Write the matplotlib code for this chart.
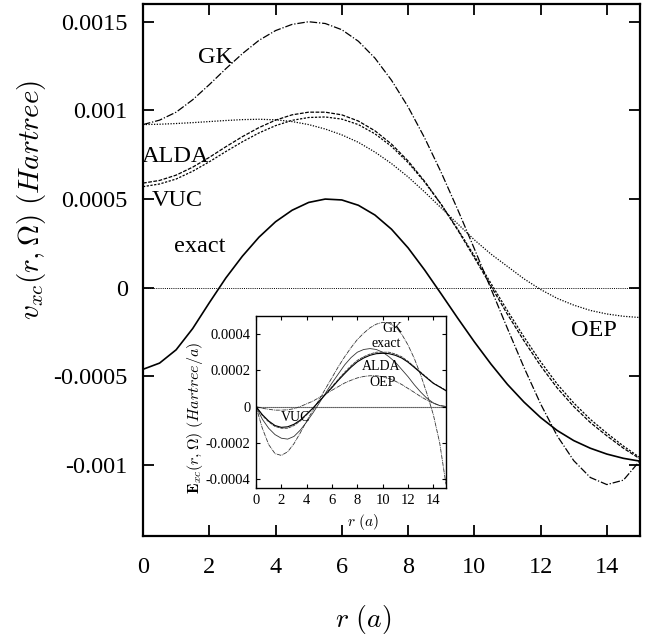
import numpy as np
import matplotlib
matplotlib.use("Agg")
import matplotlib.pyplot as plt

# ---------------- data ----------------
r = [0.0, 0.5, 1.0, 1.5, 2.0, 2.5, 3.0, 3.5, 4.0, 4.5, 5.0, 5.5, 6.0, 6.5, 7.0, 7.5,
     8.0, 8.5, 9.0, 9.5, 10.0, 10.5, 11.0, 11.5, 12.0, 12.5, 13.0, 13.5, 14.0, 14.5, 15.0]

v_exact = [-0.000460, -0.000425, -0.000350, -0.000230, -0.000085, 0.000055, 0.000178,
           0.000285, 0.000372, 0.000437, 0.000481, 0.000500, 0.000495, 0.000465,
           0.000410, 0.000330, 0.000225, 0.000100, -0.000035, -0.000172, -0.000305,
           -0.000430, -0.000545, -0.000645, -0.000732, -0.000805, -0.000862, -0.000905,
           -0.000938, -0.000962, -0.000978]
v_gk = [0.000920, 0.000945, 0.000990, 0.001060, 0.001145, 0.001235, 0.001320, 0.001395,
        0.001450, 0.001485, 0.001500, 0.001490, 0.001455, 0.001390, 0.001295, 0.001170,
        0.001020, 0.000845, 0.000650, 0.000440, 0.000220, -0.000005, -0.000230,
        -0.000450, -0.000655, -0.000835, -0.000975, -0.001070, -0.001110, -0.001085,
        -0.000975]
v_oep = [0.000920, 0.000922, 0.000926, 0.000931, 0.000937, 0.000943, 0.000948, 0.000950,
         0.000947, 0.000937, 0.000920, 0.000895, 0.000862, 0.000820, 0.000765, 0.000700,
         0.000625, 0.000540, 0.000450, 0.000360, 0.000270, 0.000190, 0.000120, 0.000050,
         -0.000010, -0.000060, -0.000098, -0.000128, -0.000148, -0.000161, -0.000168]
v_alda = [0.000590, 0.000605, 0.000635, 0.000680, 0.000735, 0.000795, 0.000852, 0.000903,
          0.000945, 0.000975, 0.000990, 0.000990, 0.000975, 0.000940, 0.000885, 0.000810,
          0.000715, 0.000600, 0.000470, 0.000325, 0.000170, 0.000010, -0.000150,
          -0.000300, -0.000440, -0.000565, -0.000670, -0.000760, -0.000835, -0.000905,
          -0.000965]
v_vuc = [0.000570, 0.000585, 0.000613, 0.000657, 0.000710, 0.000768, 0.000823, 0.000873,
         0.000914, 0.000944, 0.000960, 0.000963, 0.000951, 0.000920, 0.000868, 0.000797,
         0.000706, 0.000596, 0.000470, 0.000330, 0.000180, 0.000025, -0.000130,
         -0.000278, -0.000417, -0.000543, -0.000650, -0.000742, -0.000820, -0.000893,
         -0.000958]

# inset data, in units of 1e-4 Hartree/a
e_gk = [0.0, -1.2, -2.1, -2.6, -2.7, -2.5, -2.05, -1.45, -0.8, -0.2, 0.4, 1.0, 1.6, 2.2,
        2.75, 3.25, 3.7, 4.05, 4.35, 4.55, 4.65, 4.6, 4.4, 4.0, 3.4, 2.65, 1.75, 0.7,
        -0.45, -2.0, -4.3]
e_exact = [0.0, -0.7, -1.2, -1.55, -1.75, -1.8, -1.65, -1.3, -0.85, -0.35, 0.2, 0.75,
           1.3, 1.8, 2.3, 2.7, 3.0, 3.15, 3.2, 3.15, 3.0, 2.75, 2.45, 2.05, 1.65, 1.2,
           0.8, 0.45, 0.2, 0.05, 0.0]
e_alda = [0.0, -0.5, -0.85, -1.1, -1.2, -1.2, -1.05, -0.8, -0.45, -0.1, 0.3, 0.7, 1.1,
          1.5, 1.9, 2.25, 2.55, 2.75, 2.9, 3.0, 3.0, 3.0, 2.9, 2.75, 2.5, 2.2, 1.9, 1.6,
          1.3, 1.1, 0.9]
e_vuc = [0.0, -0.45, -0.8, -1.05, -1.15, -1.12, -0.98, -0.75, -0.42, -0.08, 0.3, 0.68,
         1.05, 1.45, 1.82, 2.17, 2.47, 2.68, 2.83, 2.92, 2.94, 2.92, 2.83, 2.68, 2.45,
         2.16, 1.86, 1.57, 1.28, 1.08, 0.87]
e_oep = [0.0, -0.1, -0.15, -0.2, -0.2, -0.18, -0.12, 0.0, 0.15, 0.3, 0.5, 0.7, 0.9, 1.1,
         1.3, 1.45, 1.58, 1.66, 1.7, 1.7, 1.65, 1.55, 1.4, 1.22, 1.0, 0.78, 0.55, 0.35,
         0.18, 0.06, 0.0]
E_UNIT = 1e-4

main_xticks = [0, 2, 4, 6, 8, 10, 12, 14]
main_xticklabels = ["0", "2", "4", "6", "8", "10", "12", "14"]
main_yticks = [0.0015, 0.001, 0.0005, 0.0, -0.0005, -0.001]
main_yticklabels = ["0.0015", "0.001", "0.0005", "0", "-0.0005", "-0.001"]
inset_xticks = [0, 2, 4, 6, 8, 10, 12, 14]
inset_xticklabels = ["0", "2", "4", "6", "8", "10", "12", "14"]
inset_yticks = [0.0004, 0.0002, 0.0, -0.0002, -0.0004]
inset_yticklabels = ["0.0004", "0.0002", "0", "-0.0002", "-0.0004"]

# ---------------- figure ----------------
plt.rcParams['mathtext.fontset'] = 'cm'
SERIF = 'Liberation Serif'

fig = plt.figure(figsize=(6.52, 6.39), dpi=100)
W, H = 652, 639
ax = fig.add_axes([143 / W, 1 - 536 / H, (640 - 143) / W, (536 - 4) / H])

ax.axhline(0, color='black', lw=0.7, ls=(0, (1, 1.2)))
ax.plot(r, v_exact, color='black', lw=1.2, ls='-')
ax.plot(r, v_gk, color='black', lw=0.9, ls=(0, (6, 1.5, 1, 1.5)))
ax.plot(r, v_oep, color='black', lw=0.9, ls=(0, (1, 1.2)))
ax.plot(r, v_alda, color='black', lw=0.9, ls=(0, (3, 1.2)))
ax.plot(r, v_vuc, color='black', lw=0.9, ls=(0, (1.8, 1.2)))

ax.set_xlim(0, 15)
ax.set_ylim(-0.0014, 0.0016)
ax.set_xticks(main_xticks)
ax.set_xticklabels(main_xticklabels, fontfamily=SERIF, fontsize=17.5)
ax.set_yticks(main_yticks)
ax.set_yticklabels(main_yticklabels, fontfamily=SERIF, fontsize=17.5)
ax.tick_params(direction='in', length=8, width=1.3, top=True, right=True)
ax.tick_params(axis='x', pad=15)
ax.tick_params(axis='y', pad=11)
for s in ax.spines.values():
    s.set_linewidth(1.6)

ax.set_xlabel(r'$r\ (a)$', fontsize=20, va='center')
ax.xaxis.set_label_coords((363 - 143) / 497, (536 - 620) / 532)
ax.set_ylabel(r'$v_{xc}(r,\Omega)\ (Hartree)$', fontsize=21, va='center')
ax.yaxis.set_label_coords((32 - 143) / 497, (536 - 200) / 532)

lab_kw = dict(fontfamily=SERIF, fontsize=17.5, ha='center', va='center')
ax.text(2.2, 0.00130, 'GK', **lab_kw)
ax.text(0.97, 0.00074, 'ALDA', **lab_kw)
ax.text(1.04, 0.00049, 'VUC', **lab_kw)
ax.text(1.7, 0.00023, 'exact', **lab_kw)
ax.text(13.6, -0.00024, 'OEP', **lab_kw)

# ---------------- inset ----------------
ins = fig.add_axes([256 / W, 1 - 488 / H, 190 / W, 172 / H])
ins.axhline(0, color='black', lw=0.8, ls=(0, (1, 0.8)))
ins_kw = dict(color='#333333', lw=0.6)
ins.plot(r, [v * E_UNIT for v in e_gk], ls=(0, (5, 1, 1, 1)), **ins_kw)
ins.plot(r, [v * E_UNIT for v in e_exact], ls='-', **ins_kw)
ins.plot(r, [v * E_UNIT for v in e_alda], ls=(0, (4, 1)), **ins_kw)
ins.plot(r, [v * E_UNIT for v in e_vuc], ls='-', color='black', lw=0.8)
ins.plot(r, [v * E_UNIT for v in e_oep], ls=(0, (5, 1, 1, 1)), **ins_kw)

ins.set_xlim(0, 15)
ins.set_ylim(-0.00045, 0.0005)
ins.set_xticks(inset_xticks)
ins.set_xticklabels(inset_xticklabels, fontfamily=SERIF, fontsize=10.5)
ins.set_yticks(inset_yticks)
ins.set_yticklabels(inset_yticklabels, fontfamily=SERIF, fontsize=10.5)
ins.tick_params(direction='in', length=3, width=0.8, top=True, right=True, pad=4)
for s in ins.spines.values():
    s.set_linewidth(1.0)
ins.set_xlabel(r'$r\ (a)$', fontsize=11, va='center')
ins.xaxis.set_label_coords((363 - 256) / 190, (488 - 522) / 172)
ins.set_ylabel(r'$\mathbf{E}_{xc}(r,\Omega)\ (Hartree/a)$', fontsize=11.5, va='center')
ins.yaxis.set_label_coords((195 - 256) / 190, (488 - 418) / 172)

ilab = dict(fontfamily=SERIF, fontsize=10, ha='center', va='center')
ins.text(10.8, 0.00043, 'GK', **ilab)
ins.text(10.3, 0.00035, 'exact', **ilab)
ins.text(9.85, 0.00022, 'ALDA', **ilab)
ins.text(10.0, 0.00013, 'OEP', **ilab)
ins.text(3.15, -0.00006, 'VUC', **ilab)

fig.savefig('out.png', dpi=100)
